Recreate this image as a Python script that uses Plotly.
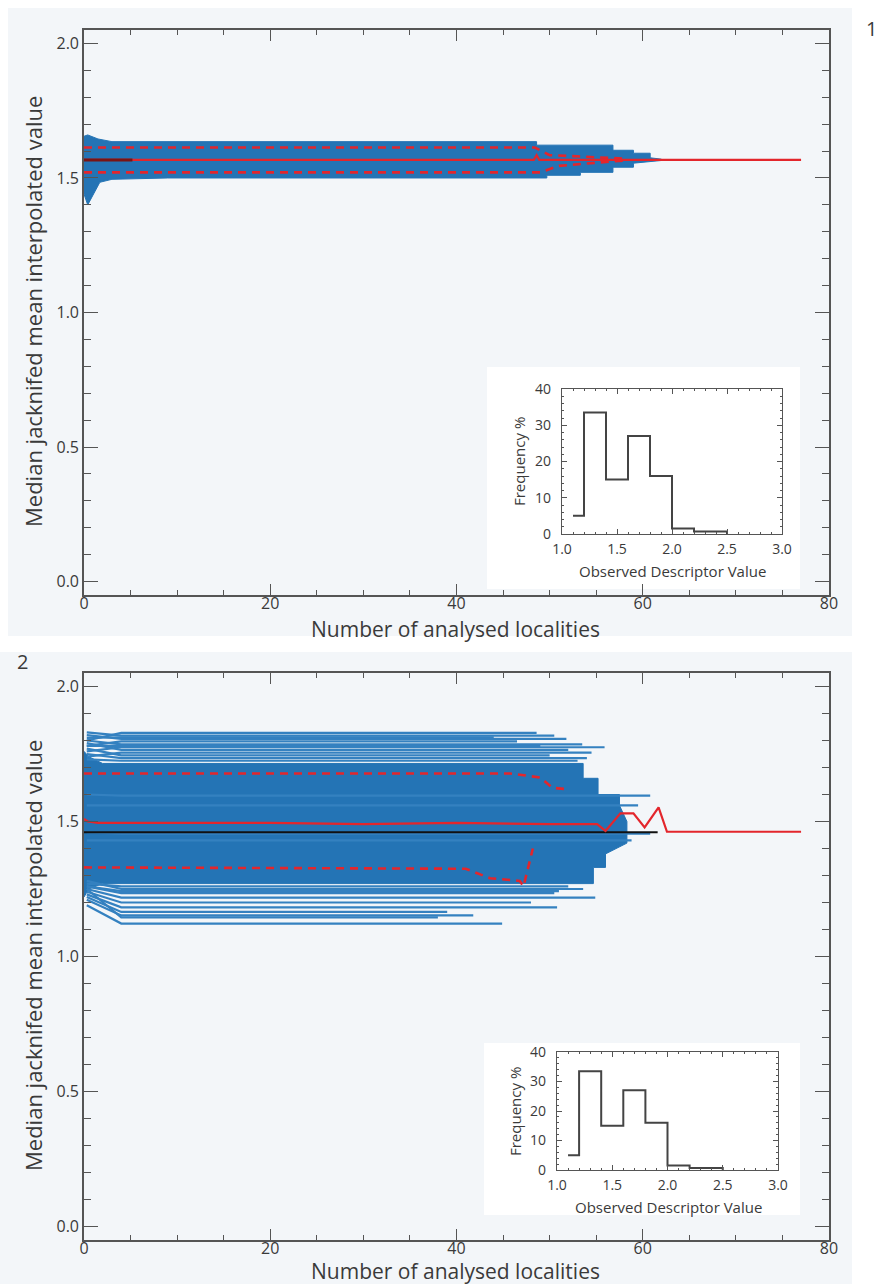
import plotly.graph_objects as go

W, H = 879, 1284

# ---------------- data ----------------
# Panel 1 : envelope of the jackknife traces (upper / lower edge)
p1_up_x = [0, 0.4, 1.5, 3, 48.6, 48.6, 56.8, 56.8, 59, 59, 60.8, 60.8, 62]
p1_up_y = [1.655, 1.66, 1.645, 1.635, 1.635, 1.622, 1.622, 1.603, 1.603, 1.592, 1.592, 1.575, 1.57]
p1_lo_x = [0, 0.4, 1, 1.7, 3, 9, 49.7, 49.7, 53.3, 53.3, 56.8, 56.8, 59, 59, 62]
p1_lo_y = [1.44, 1.40, 1.44, 1.484, 1.495, 1.50, 1.50, 1.51, 1.51, 1.521, 1.521, 1.54, 1.54, 1.555, 1.565]
p1_med_x = [0, 48.3, 48.6, 48.9, 77]
p1_med_y = [1.567, 1.567, 1.585, 1.567, 1.567]
p1_mean_x = [0, 5.2]
p1_mean_y = [1.567, 1.567]
p1_qhi_x = [0, 48.4, 50, 58]
p1_qhi_y = [1.613, 1.613, 1.585, 1.572]
p1_qlo_x = [0, 49, 51, 58]
p1_qlo_y = [1.521, 1.521, 1.545, 1.565]

# Panel 2 : dense envelope
p2_up_x = [0, 0.5, 2, 53.6, 53.6, 55.2, 55.2, 57.5, 57.5, 58.3]
p2_up_y = [1.76, 1.74, 1.715, 1.715, 1.66, 1.66, 1.60, 1.60, 1.56, 1.50]
p2_lo_x = [0, 0.5, 2, 54.7, 54.7, 56, 56, 58.3]
p2_lo_y = [1.22, 1.25, 1.27, 1.27, 1.33, 1.33, 1.38, 1.42]
# Panel 2 : individual outer traces (start value, plateau level, last locality)
p2_line_start = [1.80, 1.83, 1.82, 1.78, 1.80, 1.76, 1.79, 1.74, 1.77, 1.75, 1.73, 1.81, 1.78,
                 1.60, 1.56, 1.46, 1.43,
                 1.27, 1.28, 1.26, 1.25, 1.24, 1.23, 1.22, 1.21, 1.25, 1.19, 1.26]
p2_line_level = [1.828, 1.818, 1.806, 1.797, 1.786, 1.775, 1.765, 1.755, 1.745, 1.735, 1.725, 1.812, 1.780,
                 1.596, 1.56, 1.455, 1.43,
                 1.26, 1.25, 1.235, 1.218, 1.20, 1.182, 1.165, 1.152, 1.145, 1.122, 1.242]
p2_line_end = [48.6, 50.5, 51.8, 46.5, 53.5, 55.9, 52.0, 54.5, 50.0, 54.0, 53.0, 44.0, 49.0,
               60.8, 59.5, 60.8, 58.8,
               52.0, 53.6, 50.5, 54.9, 48.0, 50.8, 39.0, 41.8, 38.0, 44.9, 51.0]
p2_med_x = [0, 0.4, 1.5, 20, 30, 40, 50, 55.1, 56.0, 57.6, 59.0, 60.2, 61.7, 62.6, 77]
p2_med_y = [1.51, 1.50, 1.495, 1.495, 1.49, 1.495, 1.49, 1.49, 1.465, 1.53, 1.53, 1.478, 1.552, 1.462, 1.462]
p2_mean_x = [0, 61.6]
p2_mean_y = [1.46, 1.46]
p2_qhi_x = [0, 45.7, 49, 50.3, 51.8]
p2_qhi_y = [1.678, 1.678, 1.663, 1.625, 1.62]
p2_qlo_x = [0, 41, 43.6, 46.8, 47.2, 48.2]
p2_qlo_y = [1.33, 1.325, 1.29, 1.28, 1.26, 1.40]

# Inset histogram (observed descriptor distribution)
hist_edges = [1.1, 1.2, 1.4, 1.6, 1.8, 2.0, 2.2, 2.5]
hist_freq = [5, 33.5, 15, 27, 16, 1.5, 0.7]

main_xticks = [0, 20, 40, 60, 80]
main_yticks = [0.0, 0.5, 1.0, 1.5, 2.0]
inset_xticks = [1.0, 1.5, 2.0, 2.5, 3.0]
inset_yticks = [0, 10, 20, 30, 40]

# ---------------- styling ----------------
FONT = "Open Sans"
TXT = "#3a3a3a"
AX = "#555555"
BLUE = "#2474b5"
LBLUE = "#3481c0"
RED = "#e3262c"

# plot area in pixels
PL, PR, PT, PB = 84, 829, 30, 1240


def fx(px):
    return (px - PL) / (PR - PL)


def fy(py):
    return (PB - py) / (PB - PT)


fig = go.Figure()


def add_panel(n, up_x, up_y, lo_x, lo_y, med_x, med_y, mean_x, mean_y, mean_col,
              qhi_x, qhi_y, qlo_x, qlo_y, lines=None):
    xa, ya = ("x%d" % n, "y%d" % n) if n > 1 else ("x", "y")
    poly_x = list(up_x) + list(reversed(lo_x))
    poly_y = list(up_y) + list(reversed(lo_y))
    fig.add_trace(go.Scatter(x=poly_x, y=poly_y, fill="toself", fillcolor=BLUE,
                             line=dict(color=BLUE, width=1), mode="lines",
                             xaxis=xa, yaxis=ya, showlegend=False, hoverinfo="skip"))
    if lines:
        for s, lv, e in zip(*lines):
            fig.add_trace(go.Scatter(x=[0.3, 4, e], y=[s, lv, lv], mode="lines",
                                     line=dict(color=LBLUE, width=2.2),
                                     xaxis=xa, yaxis=ya, showlegend=False, hoverinfo="skip"))
    fig.add_trace(go.Scatter(x=qhi_x, y=qhi_y, mode="lines",
                             line=dict(color=RED, width=2.6, dash="8px,6px"),
                             xaxis=xa, yaxis=ya, showlegend=False))
    fig.add_trace(go.Scatter(x=qlo_x, y=qlo_y, mode="lines",
                             line=dict(color=RED, width=2.6, dash="8px,6px"),
                             xaxis=xa, yaxis=ya, showlegend=False))
    if n == 2:
        fig.add_trace(go.Scatter(x=mean_x, y=mean_y, mode="lines",
                                 line=dict(color=mean_col, width=2),
                                 xaxis=xa, yaxis=ya, showlegend=False))
    fig.add_trace(go.Scatter(x=med_x, y=med_y, mode="lines",
                             line=dict(color=RED, width=2.2),
                             xaxis=xa, yaxis=ya, showlegend=False))
    if n == 1:
        fig.add_trace(go.Scatter(x=mean_x, y=mean_y, mode="lines",
                                 line=dict(color=mean_col, width=3),
                                 xaxis=xa, yaxis=ya, showlegend=False))


add_panel(1, p1_up_x, p1_up_y, p1_lo_x, p1_lo_y, p1_med_x, p1_med_y,
          p1_mean_x, p1_mean_y, "#7a1414", p1_qhi_x, p1_qhi_y, p1_qlo_x, p1_qlo_y)
add_panel(2, p2_up_x, p2_up_y, p2_lo_x, p2_lo_y, p2_med_x, p2_med_y,
          p2_mean_x, p2_mean_y, "#111111", p2_qhi_x, p2_qhi_y, p2_qlo_x, p2_qlo_y,
          lines=(p2_line_start, p2_line_level, p2_line_end))

# inset histograms
hx = list(hist_edges)
hy = list(hist_freq) + [0]
for xa, ya in (("x3", "y3"), ("x4", "y4")):
    fig.add_trace(go.Scatter(x=hx, y=hy, mode="lines", line_shape="hv",
                             line=dict(color="#444444", width=2),
                             xaxis=xa, yaxis=ya, showlegend=False))


def main_x(domain, anchor):
    return dict(domain=domain, anchor=anchor, range=[0, 80], tickvals=main_xticks,
                showline=True, linecolor=AX, linewidth=1.6, mirror="allticks",
                ticks="inside", ticklen=11, tickwidth=1.4, tickcolor=AX,
                minor=dict(dtick=5, tick0=0, ticks="inside", ticklen=5, tickcolor=AX, tickwidth=1.2),
                showgrid=False, zeroline=False, automargin=False, ticklabelstandoff=-7,
                tickfont=dict(family=FONT, size=16, color=TXT))


def main_y(domain, anchor):
    return dict(domain=domain, anchor=anchor, range=[-0.05, 2.05], tickvals=main_yticks,
                tickformat=".1f",
                showline=True, linecolor=AX, linewidth=1.6, mirror="allticks",
                ticks="inside", ticklen=14, tickwidth=1.4, tickcolor=AX,
                minor=dict(dtick=0.1, tick0=0, ticks="inside", ticklen=7, tickcolor=AX, tickwidth=1.2),
                showgrid=False, zeroline=False, automargin=False,
                tickfont=dict(family=FONT, size=16, color=TXT))


def ins_x(domain, anchor):
    return dict(domain=domain, anchor=anchor, range=[1, 3], tickvals=inset_xticks,
                tickformat=".1f",
                showline=True, linecolor=AX, linewidth=1.4, mirror="allticks",
                ticks="inside", ticklen=5, tickwidth=1.2, tickcolor=AX,
                minor=dict(dtick=0.1, tick0=1, ticks="inside", ticklen=2, tickcolor=AX),
                showgrid=False, zeroline=False, automargin=False, ticklabelstandoff=2,
                tickfont=dict(family=FONT, size=14, color=TXT))


def ins_y(domain, anchor):
    return dict(domain=domain, anchor=anchor, range=[0, 40], tickvals=inset_yticks,
                showline=True, linecolor=AX, linewidth=1.4, mirror="allticks",
                ticks="inside", ticklen=5, tickwidth=1.2, tickcolor=AX,
                minor=dict(dtick=2, tick0=0, ticks="inside", ticklen=2, tickcolor=AX),
                showgrid=False, zeroline=False, automargin=False, ticklabelstandoff=7,
                tickfont=dict(family=FONT, size=14, color=TXT))


xd = [0, 1]
fig.update_layout(
    width=W, height=H, autosize=False,
    margin=dict(l=PL, r=W - PR, t=PT, b=H - PB, pad=0, autoexpand=False),
    paper_bgcolor="white", plot_bgcolor="rgba(0,0,0,0)",
    showlegend=False,
    xaxis=main_x(xd, "y"), yaxis=main_y([fy(595), fy(30)], "x"),
    xaxis2=main_x(xd, "y2"), yaxis2=main_y([fy(1240), fy(673)], "x2"),
    xaxis3=ins_x([fx(562), fx(782)], "y3"), yaxis3=ins_y([fy(534), fy(389)], "x3"),
    xaxis4=ins_x([fx(557), fx(778)], "y4"), yaxis4=ins_y([fy(1170), fy(1052)], "x4"),
)

# backgrounds
shapes = []
for (x0, y0, x1, y1, col) in [(8, 8, 852, 636, "#f3f6f9"), (0, 652, 852, 1284, "#f3f6f9"),
                              (487, 367, 800, 589, "#ffffff"), (484, 1043, 800, 1215, "#ffffff")]:
    shapes.append(dict(type="rect", xref="paper", yref="paper", x0=fx(x0), x1=fx(x1),
                       y0=fy(y1), y1=fy(y0), fillcolor=col, line=dict(width=0), layer="below"))
fig.update_layout(shapes=shapes)


def ann(text, px, py, size, angle=0):
    fig.add_annotation(text=text, x=fx(px), y=fy(py), xref="paper", yref="paper",
                       showarrow=False, textangle=angle, xanchor="center", yanchor="middle",
                       font=dict(family=FONT, size=size, color=TXT))


ann("Number of analysed localities", 455, 629, 21)
ann("Number of analysed localities", 455, 1271, 21)
ann("Median jacknifed mean interpolated value", 33, 312, 22, -90)
ann("Median jacknifed mean interpolated value", 33, 956, 22, -90)
ann("Frequency %", 519, 462, 15, -90)
ann("Frequency %", 515, 1112, 15, -90)
ann("Observed Descriptor Value", 672, 571, 15)
ann("Observed Descriptor Value", 668, 1207, 15)
ann("1", 871, 28, 20)
ann("2", 22, 661, 20)

fig.write_html("out.html")
